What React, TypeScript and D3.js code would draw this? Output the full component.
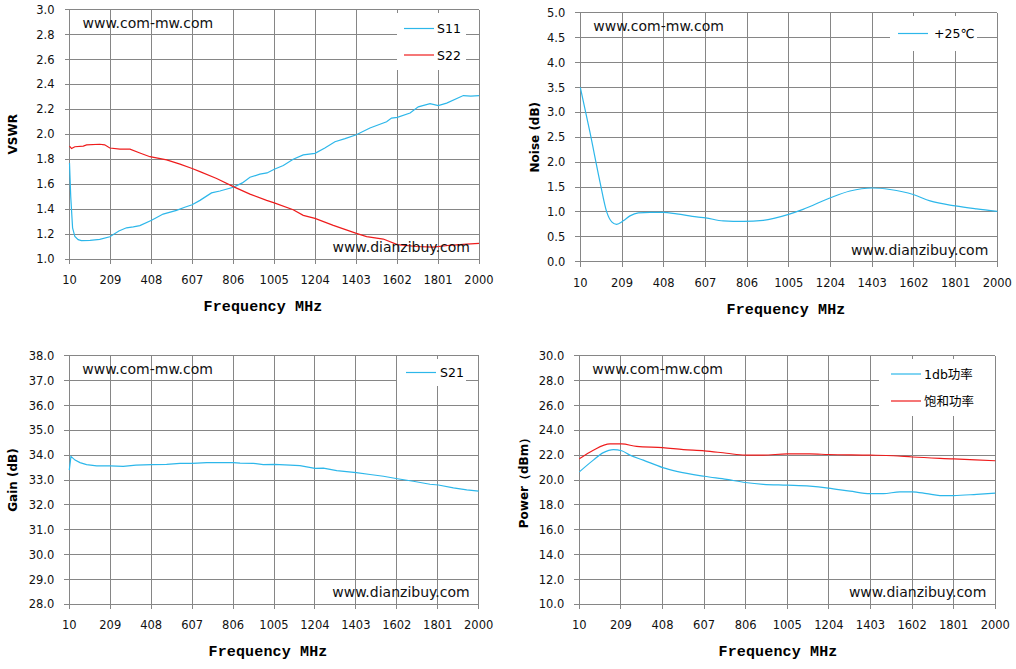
import * as d3 from "d3";

// frequency ticks shared by all four panels
const freqTicks = [10, 209, 408, 607, 806, 1005, 1204, 1403, 1602, 1801, 2000];

// VSWR
const s11Freq = [10, 16, 25, 36, 52, 68, 110, 157, 206, 250, 287, 320, 352, 409, 465, 530, 570, 606, 644, 700, 741, 806, 850, 887, 935, 970, 1005, 1049, 1097, 1146, 1203, 1251, 1300, 1349, 1404, 1470, 1551, 1575, 1603, 1665, 1705, 1762, 1802, 1843, 1924, 1960, 2000];
const s11 = [1.77, 1.5, 1.25, 1.18, 1.155, 1.148, 1.15, 1.157, 1.178, 1.225, 1.25, 1.258, 1.268, 1.31, 1.36, 1.39, 1.415, 1.435, 1.47, 1.53, 1.545, 1.575, 1.61, 1.655, 1.68, 1.69, 1.72, 1.75, 1.8, 1.835, 1.847, 1.89, 1.94, 1.965, 1.996, 2.05, 2.1, 2.13, 2.135, 2.17, 2.22, 2.245, 2.23, 2.25, 2.31, 2.305, 2.31];
const s22Freq = [10, 20, 36, 77, 93, 157, 181, 206, 255, 304, 352, 401, 482, 547, 606, 644, 725, 806, 887, 968, 1005, 1097, 1146, 1203, 1292, 1404, 1454, 1535, 1603, 1697, 1778, 1859, 1940, 2000];
const s22 = [1.905, 1.885, 1.9, 1.905, 1.915, 1.92, 1.915, 1.89, 1.88, 1.88, 1.85, 1.82, 1.795, 1.76, 1.725, 1.7, 1.645, 1.58, 1.52, 1.47, 1.45, 1.395, 1.35, 1.326, 1.27, 1.205, 1.18, 1.16, 1.115, 1.1, 1.095, 1.11, 1.12, 1.125];

// Noise figure
const noiseFreq = [10, 56, 104, 136, 160, 183, 215, 247, 287, 342, 406, 470, 565, 608, 692, 788, 883, 1004, 1073, 1201, 1297, 1403, 1488, 1599, 1679, 1800, 1901, 2000];
const noise = [3.5, 2.6, 1.6, 1.0, 0.8, 0.75, 0.82, 0.92, 0.98, 0.99, 0.99, 0.96, 0.9, 0.88, 0.82, 0.81, 0.83, 0.95, 1.05, 1.28, 1.42, 1.48, 1.45, 1.35, 1.22, 1.12, 1.06, 1.01];

// Gain
const gainFreq = [10, 18, 38, 62, 94, 143, 208, 272, 334, 410, 483, 548, 608, 678, 807, 840, 904, 953, 1007, 1083, 1131, 1204, 1245, 1310, 1405, 1472, 1537, 1605, 1682, 1763, 1804, 1877, 1942, 2000];
const gain = [33.4, 33.95, 33.8, 33.7, 33.62, 33.57, 33.57, 33.55, 33.6, 33.62, 33.63, 33.67, 33.67, 33.7, 33.7, 33.68, 33.67, 33.62, 33.63, 33.6, 33.58, 33.47, 33.48, 33.38, 33.3, 33.22, 33.15, 33.05, 32.95, 32.83, 32.8, 32.68, 32.6, 32.55];

// Output power
const p1dbFreq = [10, 77, 125, 173, 213, 252, 316, 409, 476, 608, 715, 804, 890, 1005, 1113, 1201, 1305, 1402, 1464, 1544, 1603, 1672, 1735, 1801, 1911, 2000];
const p1db = [20.65, 21.6, 22.2, 22.45, 22.35, 22.0, 21.6, 21.0, 20.7, 20.3, 20.05, 19.8, 19.65, 19.58, 19.5, 19.35, 19.1, 18.9, 18.9, 19.05, 19.05, 18.9, 18.75, 18.75, 18.85, 18.95];
const psatFreq = [10, 77, 157, 213, 284, 409, 508, 608, 715, 804, 890, 1005, 1113, 1201, 1402, 1512, 1603, 1801, 2000];
const psat = [21.7, 22.4, 22.9, 22.9, 22.7, 22.6, 22.45, 22.35, 22.15, 22.0, 22.0, 22.1, 22.1, 22.05, 22.0, 21.95, 21.85, 21.7, 21.55];

const vswrTicks = d3.range(1.0, 3.01, 0.2);
const noiseTicks = d3.range(0, 5.01, 0.5);
const gainTicks = d3.range(28, 38.01, 1);
const powerTicks = d3.range(10, 30.01, 2);

const BLUE = "#2db7ea";
const RED = "#ee1c1c";
const GRID = "#868686";
const TICK_FONT = "DejaVu Sans";

type Series = { name: string; freq: number[]; values: number[]; color: string };

function Panel({
  left, right, top, bottom, yDomain, yTicks, yFormat, yTitle, yTitleX, xTitleX, series,
  legend, smooth,
}: {
  left: number; right: number; top: number; bottom: number;
  yDomain: [number, number]; yTicks: number[]; yFormat: string; yTitle: string; yTitleX: number; xTitleX: number;
  series: Series[];
  legend: { x0: number; x1: number; y0: number; y1: number; lineX: number; textX: number; rows: number[] };
  smooth: boolean;
}) {
  const x = d3.scaleLinear([10, 2000], [left, right]);
  const y = d3.scaleLinear(yDomain, [bottom, top]);
  const fmt = d3.format(yFormat);
  const midY = (top + bottom) / 2;
  return (
    <g>
      <g stroke={GRID} strokeWidth={1} shapeRendering="crispEdges">
        {yTicks.map((t) => (
          <line key={"y" + t} x1={left - 5} x2={right} y1={y(t)} y2={y(t)} />
        ))}
        {freqTicks.map((t) => (
          <line key={"x" + t} x1={x(t)} x2={x(t)} y1={top} y2={bottom + 5} />
        ))}
      </g>
      <rect x={legend.x0} y={legend.y0} width={legend.x1 - legend.x0} height={legend.y1 - legend.y0} fill="white" />
      <g fontFamily={TICK_FONT} fontSize={11.5} fill="#111">
        {yTicks.map((t) => (
          <text key={"yl" + t} x={left - 15} y={y(t)} dy="0.36em" textAnchor="end">{fmt(t)}</text>
        ))}
        {freqTicks.map((t) => (
          <text key={"xl" + t} x={x(t)} y={bottom + 25} textAnchor="middle">{t}</text>
        ))}
      </g>
      <text x={xTitleX} y={bottom + 52} textAnchor="middle" fontFamily="Liberation Mono" fontWeight="bold" fontSize={15} letterSpacing={0.15}>Frequency MHz</text>
      <text transform={`translate(${yTitleX},${midY}) rotate(-90)`} textAnchor="middle" dy="0.36em" fontFamily="DejaVu Sans" fontWeight="bold" fontSize={12}>{yTitle}</text>
      {series.map((s) => {
        const line = d3.line<number>((_, i) => x(s.freq[i]), (v) => y(v)).curve(smooth ? d3.curveMonotoneX : d3.curveLinear);
        return <path key={s.name} d={line(s.values) ?? ""} fill="none" stroke={s.color} strokeWidth={1.2} />;
      })}
      {series.map((s, i) => (
        <g key={"lg" + s.name}>
          <line x1={legend.lineX} x2={legend.lineX + 30} y1={legend.rows[i]} y2={legend.rows[i]} stroke={s.color} strokeWidth={1.2} />
          <text x={legend.textX} y={legend.rows[i]} dy="0.36em" fontFamily="DejaVu Sans, Noto Sans CJK SC" fontSize={12.5}>{s.name}</text>
        </g>
      ))}
      <g fontFamily="DejaVu Sans" fontSize={14} fill="#111">
        <text x={left + 13} y={top + 18}>www.com-mw.com</text>
        <text x={right - 9} y={bottom - 7} textAnchor="end">www.dianzibuy.com</text>
      </g>
    </g>
  );
}

export default function App() {
  return (
    <svg width={1016} height={669} style={{ position: "absolute", left: 0, top: 0, background: "white" }}>
      <Panel
        left={69.5} right={479} top={9.5} bottom={259}
        yDomain={[1, 3]} yTicks={vswrTicks} yFormat=".1f" yTitle="VSWR" yTitleX={12.5} xTitleX={263}
        series={[
          { name: "S11", freq: s11Freq, values: s11, color: BLUE },
          { name: "S22", freq: s22Freq, values: s22, color: RED },
        ]}
        legend={{ x0: 397, x1: 466, y0: 13, y1: 70, lineX: 404, textX: 437, rows: [28.5, 55] }}
        smooth={false}
      />
      <Panel
        left={580.3} right={997.3} top={12.7} bottom={261.7}
        yDomain={[0, 5]} yTicks={noiseTicks} yFormat=".1f" yTitle="Noise (dB)" yTitleX={534.5} xTitleX={786}
        series={[{ name: "+25℃", freq: noiseFreq, values: noise, color: BLUE }]}
        legend={{ x0: 890, x1: 977, y0: 16, y1: 51, lineX: 898, textX: 934, rows: [33.5] }}
        smooth={true}
      />
      <Panel
        left={69.3} right={478.7} top={355.7} bottom={604.3}
        yDomain={[28, 38]} yTicks={gainTicks} yFormat=".1f" yTitle="Gain (dB)" yTitleX={13} xTitleX={268}
        series={[{ name: "S21", freq: gainFreq, values: gain, color: BLUE }]}
        legend={{ x0: 397, x1: 466, y0: 359, y1: 386, lineX: 406, textX: 440, rows: [372.5] }}
        smooth={false}
      />
      <Panel
        left={579.3} right={995.3} top={355.7} bottom={604.3}
        yDomain={[10, 30]} yTicks={powerTicks} yFormat=".1f" yTitle="Power（dBm）" yTitleX={524} xTitleX={778}
        series={[
          { name: "1db功率", freq: p1dbFreq, values: p1db, color: BLUE },
          { name: "饱和功率", freq: psatFreq, values: psat, color: RED },
        ]}
        legend={{ x0: 879, x1: 995, y0: 359, y1: 416, lineX: 891, textX: 924, rows: [374, 401] }}
        smooth={true}
      />
    </svg>
  );
}
